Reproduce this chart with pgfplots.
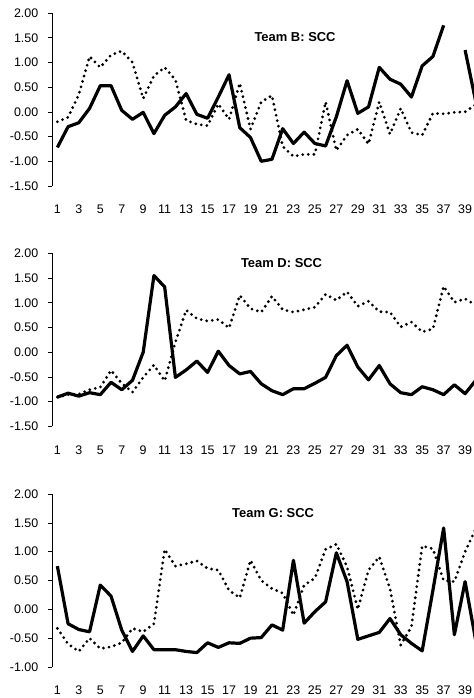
\documentclass[border=0pt]{standalone}
\usepackage{fontspec}
\setmainfont{Liberation Sans}
\usepackage{pgfplots}
\pgfplotsset{compat=1.18}

\pgfplotsset{
  scc/.style={
    scale only axis, width=422bp, height=173bp,
    anchor=north west,
    xmin=0.5, xmax=39.83,
    xtick={1,3,...,39},
    axis y line*=left, axis x line*=bottom,
    axis line style={-},
    x axis line style={draw=none},
    xtick style={draw=none},
    ytick distance=0.5,
    tick align=outside,
    major tick length=3.5bp,
    ytick style={black, line width=0.6bp},
    y axis line style={black, line width=0.6bp},
    yticklabel style={anchor=east, inner sep=0pt, xshift=-10bp,
      /pgf/number format/.cd, fixed, fixed zerofill, precision=2},
    xticklabel style={anchor=center, inner sep=0pt, yshift=-20bp},
    tick label style={font=\fontsize{12.5}{14}\selectfont},
    /pgf/number format/assume math mode=true,
    unbounded coords=jump,
  },
  solidln/.style={black, line width=3.2bp, line join=round},
  dotln/.style={black, line width=3.1bp, line cap=round, dash pattern=on 0bp off 5.6bp},
}
\newcommand{\ttl}{\bfseries\fontsize{13}{15}\selectfont}

\begin{document}
\begin{tikzpicture}
\useasboundingbox (0,0) rectangle (474bp,-698bp);

% Team B
\begin{axis}[scc, at={(52bp,-13bp)}, ymin=-1.5, ymax=2]
\addplot[dotln] coordinates {
 (1,-0.20) (2,-0.11) (3,0.35) (4,1.12) (5,0.90) (6,1.15) (7,1.23) (8,1.00)
 (9,0.27) (10,0.73) (11,0.90) (12,0.65) (13,-0.17) (14,-0.25) (15,-0.28)
 (16,0.16) (17,-0.15) (18,0.58) (19,-0.35) (20,0.20) (21,0.33) (22,-0.70)
 (23,-0.90) (24,-0.86) (25,-0.86) (26,0.20) (27,-0.78) (28,-0.47) (29,-0.35)
 (30,-0.65) (31,0.20) (32,-0.45) (33,0.07) (34,-0.42) (35,-0.47) (36,-0.03)
 (37,-0.04) (38,-0.01) (39,0.00) (40,0.15)
};
\addplot[solidln] coordinates {
 (1,-0.72) (2,-0.30) (3,-0.22) (4,0.07) (5,0.53) (6,0.53) (7,0.03) (8,-0.15)
 (9,-0.01) (10,-0.44) (11,-0.07) (12,0.10) (13,0.37) (14,-0.05) (15,-0.13)
 (16,0.30) (17,0.75) (18,-0.32) (19,-0.52) (20,-1.00) (21,-0.96) (22,-0.34)
 (23,-0.64) (24,-0.41) (25,-0.64) (26,-0.69) (27,-0.10) (28,0.63) (29,-0.03)
 (30,0.10) (31,0.90) (32,0.66) (33,0.56) (34,0.30) (35,0.93) (36,1.12)
 (37,1.75) (38,nan) (39,1.25) (40,0.20)
};
\node[font=\ttl] at (rel axis cs:0.576,0.863) {Team B: SCC};
\end{axis}

% Team D
\begin{axis}[scc, at={(52bp,-253.3bp)}, ymin=-1.5, ymax=2]
\addplot[dotln] coordinates {
 (1,-0.91) (2,-0.86) (3,-0.85) (4,-0.76) (5,-0.71) (6,-0.37) (7,-0.63)
 (8,-0.81) (9,-0.51) (10,-0.26) (11,-0.58) (12,0.20) (13,0.85) (14,0.68)
 (15,0.63) (16,0.66) (17,0.49) (18,1.15) (19,0.88) (20,0.81) (21,1.13)
 (22,0.86) (23,0.81) (24,0.86) (25,0.91) (26,1.17) (27,1.05) (28,1.22)
 (29,0.93) (30,1.03) (31,0.82) (32,0.81) (33,0.51) (34,0.61) (35,0.41)
 (36,0.47) (37,1.33) (38,1.01) (39,1.08) (40,0.95)
};
\addplot[solidln] coordinates {
 (1,-0.91) (2,-0.83) (3,-0.89) (4,-0.82) (5,-0.86) (6,-0.61) (7,-0.76)
 (8,-0.57) (9,0.00) (10,1.55) (11,1.32) (12,-0.51) (13,-0.36) (14,-0.18)
 (15,-0.41) (16,0.02) (17,-0.27) (18,-0.44) (19,-0.39) (20,-0.64) (21,-0.78)
 (22,-0.86) (23,-0.74) (24,-0.74) (25,-0.63) (26,-0.51) (27,-0.07) (28,0.14)
 (29,-0.30) (30,-0.56) (31,-0.27) (32,-0.64) (33,-0.82) (34,-0.86) (35,-0.70)
 (36,-0.76) (37,-0.86) (38,-0.66) (39,-0.84) (40,-0.57)
};
\node[font=\ttl] at (rel axis cs:0.544,0.942) {Team D: SCC};
\end{axis}

% Team G
\begin{axis}[scc, at={(52bp,-494bp)}, ymin=-1, ymax=2]
\addplot[dotln] coordinates {
 (1,-0.33) (2,-0.60) (3,-0.73) (4,-0.50) (5,-0.68) (6,-0.65) (7,-0.58)
 (8,-0.33) (9,-0.39) (10,-0.25) (11,1.04) (12,0.75) (13,0.79) (14,0.84)
 (15,0.71) (16,0.68) (17,0.33) (18,0.20) (19,0.85) (20,0.50) (21,0.36)
 (22,0.28) (23,-0.10) (24,0.42) (25,0.54) (26,1.04) (27,1.13) (28,0.74)
 (29,0.00) (30,0.68) (31,0.91) (32,0.36) (33,-0.62) (34,-0.30) (35,1.10)
 (36,1.05) (37,0.50) (38,0.48) (39,1.00) (40,1.40)
};
\addplot[solidln] coordinates {
 (1,0.75) (2,-0.25) (3,-0.35) (4,-0.39) (5,0.42) (6,0.23) (7,-0.36)
 (8,-0.73) (9,-0.46) (10,-0.70) (11,-0.70) (12,-0.70) (13,-0.73) (14,-0.75)
 (15,-0.58) (16,-0.66) (17,-0.58) (18,-0.59) (19,-0.50) (20,-0.49) (21,-0.27)
 (22,-0.36) (23,0.85) (24,-0.24) (25,-0.04) (26,0.13) (27,0.98) (28,0.48)
 (29,-0.52) (30,-0.46) (31,-0.40) (32,-0.16) (33,-0.44) (34,-0.59) (35,-0.72)
 (36,0.33) (37,1.41) (38,-0.44) (39,0.48) (40,-0.55)
};
\node[font=\ttl] at (rel axis cs:0.524,0.892) {Team G: SCC};
\end{axis}
\end{tikzpicture}
\end{document}
